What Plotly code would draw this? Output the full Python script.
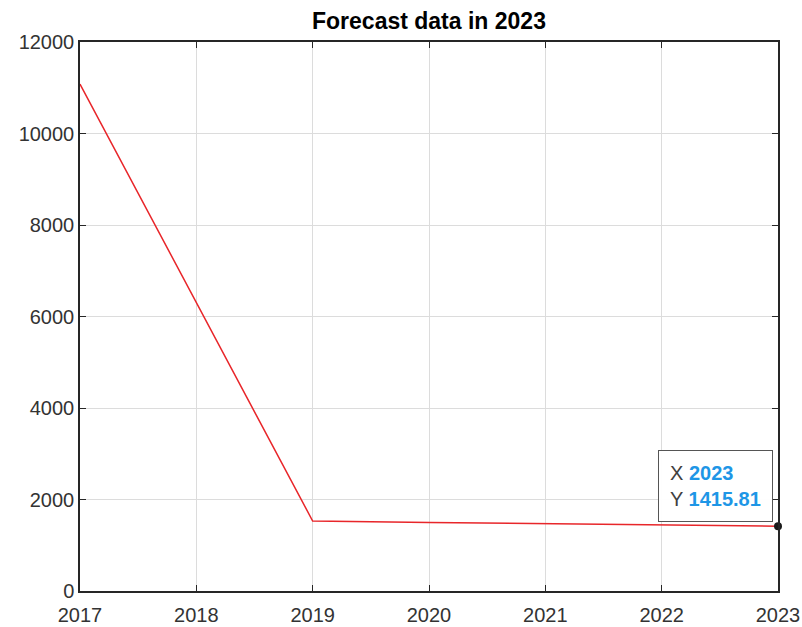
import plotly.graph_objects as go

years = [2017, 2018, 2019, 2020, 2021, 2022, 2023]
values = [11080, 6300, 1530, 1500, 1470, 1440, 1415.81]
x_ticks = [2017, 2018, 2019, 2020, 2021, 2022, 2023]
y_ticks = [0, 2000, 4000, 6000, 8000, 10000, 12000]
title = "Forecast data in 2023"
tip_x = years[-1]
tip_y = values[-1]

FONT = "Arial, Liberation Sans, sans-serif"

fig = go.Figure()
fig.add_trace(go.Scatter(x=years, y=values, mode="lines",
                         line=dict(color="#e8262a", width=1.5), showlegend=False,
                         hoverinfo="skip"))
fig.add_trace(go.Scatter(x=[tip_x], y=[tip_y], mode="markers",
                         marker=dict(color="#1a1a1a", size=8), showlegend=False,
                         cliponaxis=False))

blue = "#1e96e6"
fig.add_annotation(
    x=tip_x, y=tip_y, xref="x", yref="y",
    text=(f"X <span style='color:{blue}'><b>{tip_x}</b></span><br>"
          f"Y <span style='color:{blue}'><b>{tip_y:.2f}</b></span>"),
    showarrow=False, xanchor="right", yanchor="bottom", align="left",
    xshift=-5, yshift=4,
    font=dict(family=FONT, size=20, color="#404040"),
    bgcolor="rgba(255,255,255,0.95)", bordercolor="#555555", borderwidth=1,
    borderpad=11,
)

axis_common = dict(
    showline=True, linecolor="#262626", linewidth=1.5, mirror="ticks",
    ticks="inside", ticklen=6, tickcolor="#262626", tickwidth=1,
    showgrid=True, gridcolor="#dcdcdc", gridwidth=1, zeroline=False,
    automargin=False, ticklabeloverflow="allow",
    tickfont=dict(family=FONT, size=20, color="#333333"),
)

fig.update_xaxes(range=[2017, 2023], tickvals=x_ticks, ticktext=[str(v) for v in x_ticks],
                 ticklabelstandoff=5, **axis_common)
fig.update_yaxes(range=[0, 12000], tickvals=y_ticks, ticktext=[str(v) for v in y_ticks],
                 **axis_common)

fig.update_layout(
    width=802, height=627,
    margin=dict(l=80, r=24, t=42, b=36, autoexpand=False),
    paper_bgcolor="white", plot_bgcolor="white",
    title=dict(text=f"<b>{title}</b>", x=(80 + 778) / 2 / 802, xanchor="center",
               y=1 - 21 / 627, yanchor="middle", automargin=False,
               font=dict(family=FONT, size=23, color="#000000")),
)

fig.write_html("out.html")
